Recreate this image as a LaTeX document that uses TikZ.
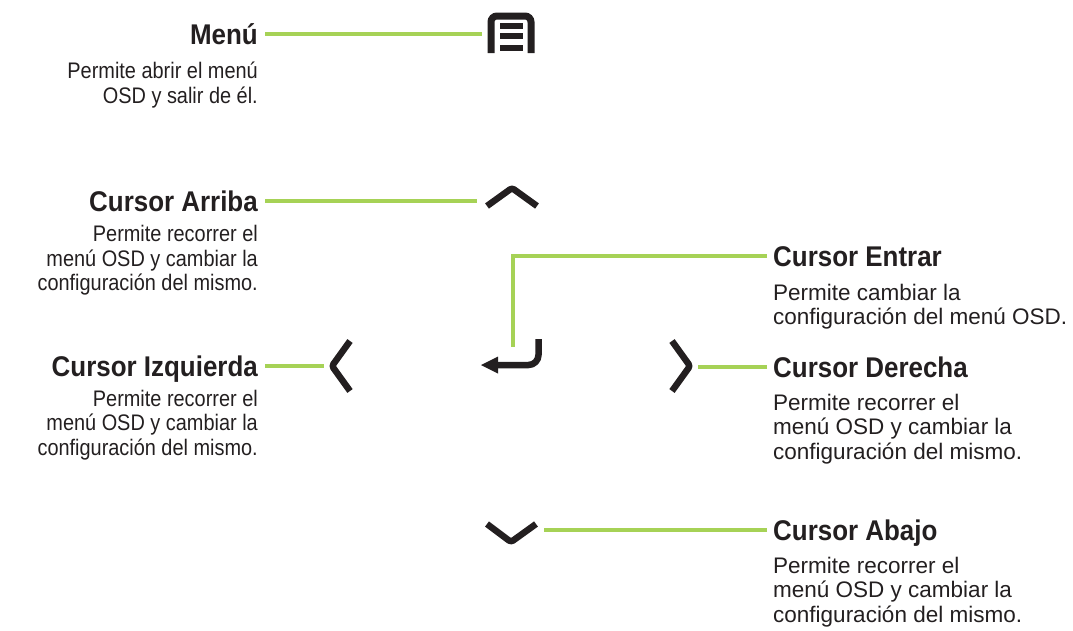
\documentclass[tikz,border=0pt]{standalone}
\usepackage{fontspec}
\setmainfont{Liberation Sans}
\newfontfamily\ttlfont[FakeStretch=0.91]{Liberation Sans Bold}
\newfontfamily\lfont[FakeStretch=0.885]{Liberation Sans}
\definecolor{lime}{RGB}{166,210,86}
\definecolor{ink}{RGB}{35,31,32}
\newcommand\Rblock[1]{\vtop{\baselineskip=24.5pt\halign{\hfil##\cr#1\crcr}}}
\newcommand\Lblock[1]{\vtop{\baselineskip=24.5pt\halign{##\hfil\cr#1\crcr}}}
\tikzset{
  ttl/.style={font=\ttlfont\fontsize{28.5}{32}\selectfont, text=ink, inner sep=0pt},
  dscl/.style={font=\lfont\fontsize{22.5}{24.5}\selectfont, text=ink, inner sep=0pt},
  dscr/.style={font=\fontsize{22.5}{24.5}\selectfont, text=ink, inner sep=0pt},
  lead/.style={draw=lime, line width=3.5pt},
  icon/.style={draw=ink, line width=6.5pt, line join=round, rounded corners=2.5pt},
}
\begin{document}
\begin{tikzpicture}[x=1pt,y=-1pt]
\useasboundingbox (0,0) rectangle (1073,630);
% titles and descriptions (left column)
\node[ttl, anchor=base east] (menuT) at (258,44.5) {Menú};
\node[dscl, anchor=base east] (menuD) at (258,78.5) {\Rblock{Permite abrir el menú\cr OSD y salir de él.}};
\node[ttl, anchor=base east] (upT) at (258,211.5) {Cursor Arriba};
\node[dscl, anchor=base east] (upD) at (258,241.5) {\Rblock{Permite recorrer el\cr menú OSD y cambiar la\cr configuración del mismo.}};
\node[ttl, anchor=base east] (leftT) at (258,376.5) {Cursor Izquierda};
\node[dscl, anchor=base east] (leftD) at (258,406) {\Rblock{Permite recorrer el\cr menú OSD y cambiar la\cr configuración del mismo.}};
% right column
\node[ttl, anchor=base west] (enterT) at (773,266.5) {Cursor Entrar};
\node[dscr, anchor=base west] (enterD) at (773,300) {\Lblock{Permite cambiar la\cr configuración del menú OSD.}};
\node[ttl, anchor=base west] (rightT) at (773,377.5) {Cursor Derecha};
\node[dscr, anchor=base west] (rightD) at (773,410) {\Lblock{Permite recorrer el\cr menú OSD y cambiar la\cr configuración del mismo.}};
\node[ttl, anchor=base west] (downT) at (773,540.5) {Cursor Abajo};
\node[dscr, anchor=base west] (downD) at (773,573) {\Lblock{Permite recorrer el\cr menú OSD y cambiar la\cr configuración del mismo.}};
% icon attachment points
\coordinate (menuI) at (482,34);
\coordinate (upI) at (477,201);
\coordinate (leftI) at (324,366);
\coordinate (rightI) at (698,367);
\coordinate (enterI) at (513,347);
\coordinate (downI) at (544,530);
% connectors
\draw[lead] ([xshift=7pt,yshift=10.5pt]menuT.base east) -- (menuI);
\draw[lead] ([xshift=7pt,yshift=10.5pt]upT.base east) -- (upI);
\draw[lead] ([xshift=7pt,yshift=10.5pt]leftT.base east) -- (leftI);
\draw[lead] ([xshift=-6pt,yshift=10.5pt]rightT.base west) -- (rightI);
\draw[lead] ([xshift=-6pt,yshift=10.5pt]downT.base west) -- (downI);
\draw[lead] ([xshift=-6pt,yshift=10.5pt]enterT.base west) -| (enterI);
% menu icon
\draw[draw=ink, line width=7pt, rounded corners=6pt] (491,53) -- (491,16) -- (531,16) -- (531,53);
\fill[ink] (500,23) rectangle (523,29);
\fill[ink] (500,33) rectangle (523,39);
\fill[ink] (500,45) rectangle (523,51);
% chevrons
\draw[icon] (487,206) -- (512,188) -- (537,206);
\draw[icon] (350,341) -- (332,366) -- (350,391);
\draw[icon] (672,341) -- (690,366) -- (672,391);
\draw[icon] (487,524) -- (511,542) -- (536,524);
% enter icon
\draw[icon, rounded corners=10pt] (538.5,339) -- (538.5,365) -- (494,365);
\fill[ink] (481,365) -- (498,356.5) -- (498,373.5) -- cycle;
\end{tikzpicture}
\end{document}
